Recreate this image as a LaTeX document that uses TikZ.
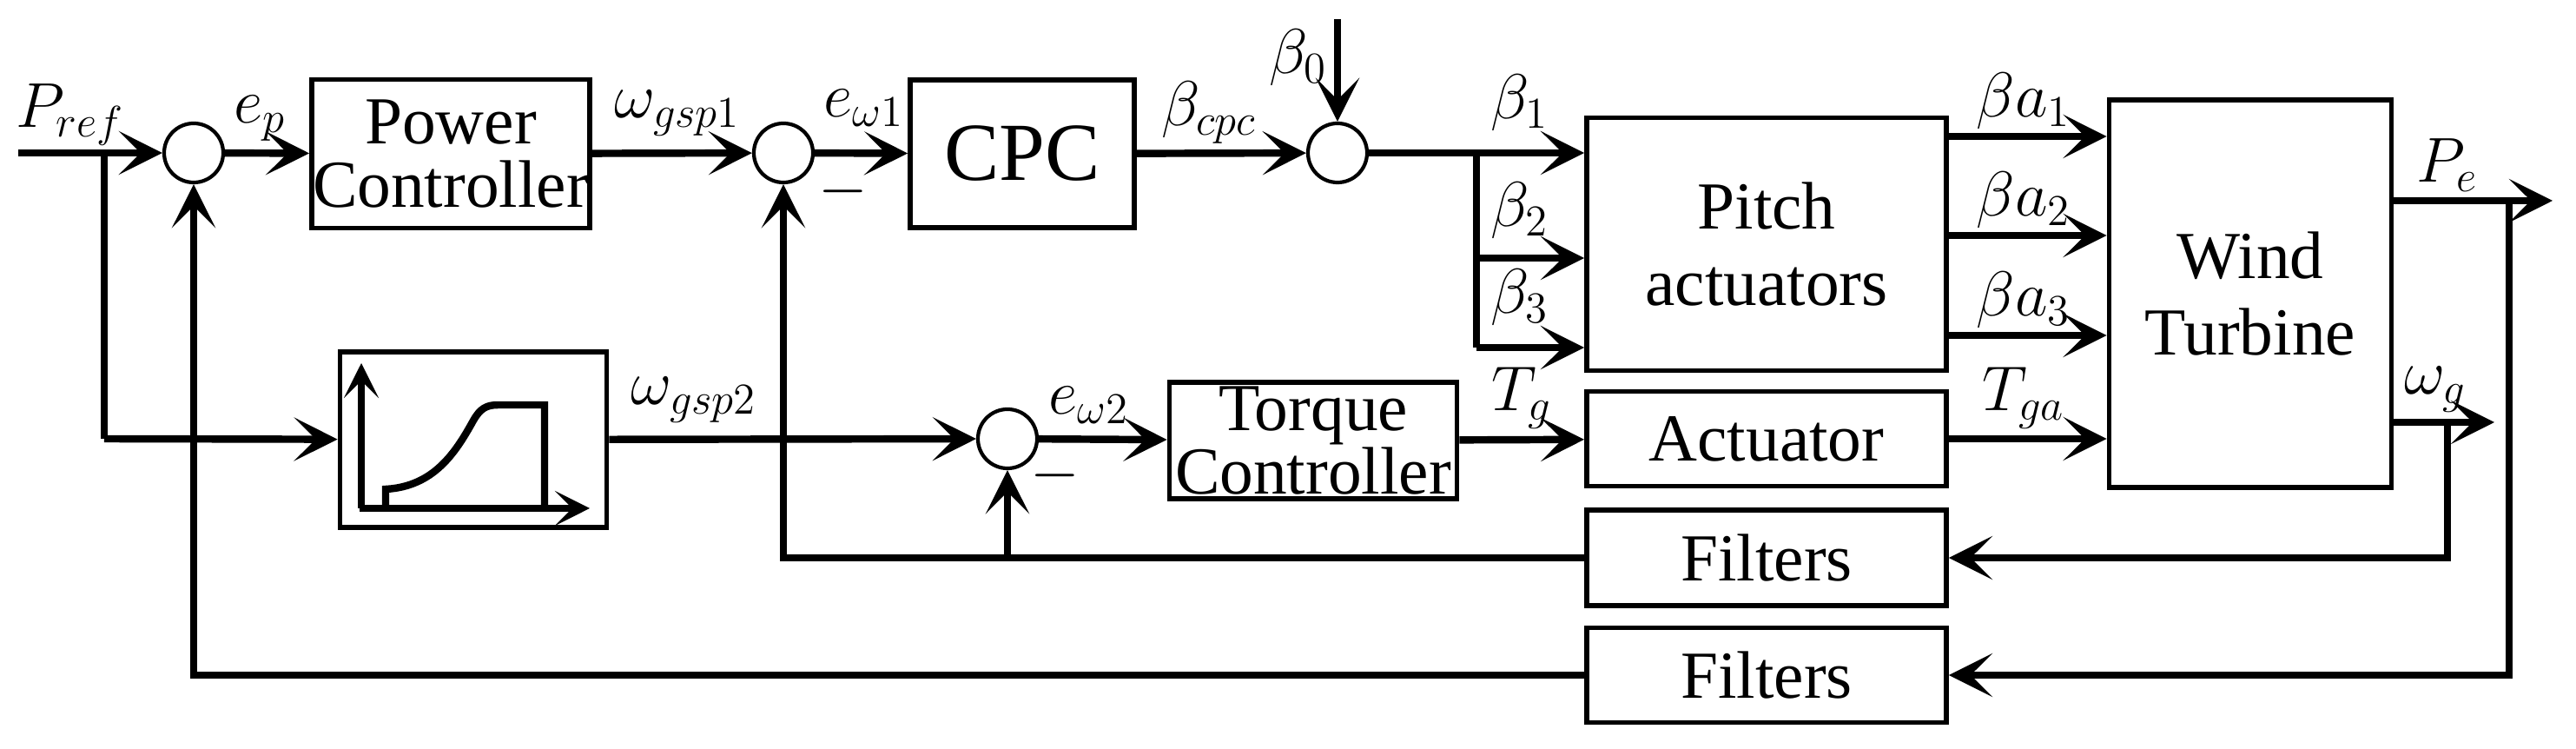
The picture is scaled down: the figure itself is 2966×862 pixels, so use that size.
\documentclass[tikz,border=0pt]{standalone}
\usepackage{fontspec}
\setmainfont{Liberation Serif}
\usepackage{tikz}
\usetikzlibrary{arrows.meta, positioning}
\tikzset{
    blk/.style={draw, line width=1.6pt, inner sep=0pt},
    sum/.style={draw, circle, line width=1.2pt, minimum size=0.68cm, inner sep=0pt},
    sig/.style={line width=2.4pt, -{Stealth[length=5mm, width=5mm, inset=2.5mm]}},
    wire/.style={line width=2.4pt},
    lbl/.style={font=\rmfamily\fontsize{22}{24}\selectfont},
}
\begin{document}
\begin{tikzpicture}[x=0.01cm, y=-0.01cm, font=\rmfamily\fontsize{22}{25}\selectfont]
    \useasboundingbox (0,0) rectangle (2966,862);
    % blocks
    \node[blk, minimum width=3.2cm, minimum height=1.71cm, align=center] (pc) at (519,177) {Power\\[-4pt]Controller};
    \node[blk, minimum width=2.58cm, minimum height=1.70cm, font=\rmfamily\fontsize{27}{28}\selectfont] (cpc) at (1177,177) {CPC};
    \node[blk, minimum width=3.07cm, minimum height=2.02cm] (curve) at (545,506) {};
    \node[blk, minimum width=3.31cm, minimum height=1.34cm, align=center] (tc) at (1512,507) {Torque\\[-4pt]Controller};
    \node[blk, minimum width=4.14cm, minimum height=2.91cm, align=center] (pa) at (2034,281) {Pitch\\actuators};
    \node[blk, minimum width=4.14cm, minimum height=1.09cm] (act) at (2034,505) {Actuator};
    \node[blk, minimum width=3.25cm, minimum height=4.46cm, align=center] (wt) at (2591,338) {Wind\\Turbine};
    \node[blk, minimum width=4.14cm, minimum height=1.10cm] (f1) at (2034,642) {Filters};
    \node[blk, minimum width=4.14cm, minimum height=1.09cm] (f2) at (2034,777) {Filters};
    % summing junctions
    \node[sum] (s1) at (223,176) {};
    \node[sum] (s2) at (902,176) {};
    \node[sum] (s3) at (1160,505) {};
    \node[sum] (s4) at (1540,176) {};
    % helper points
    \coordinate (in) at (21,176);
    \coordinate (pb) at (120,176);
    \coordinate (pd) at (120,505);
    \coordinate (b0) at (1540,22);
    \coordinate (bb) at (1700,176);
    \coordinate (bb2) at (1700,297);
    \coordinate (bb3) at (1700,400);
    \coordinate (pe) at (2939,231);
    \coordinate (peb) at (2889,231);
    \coordinate (pel) at (2889,777);
    \coordinate (wg) at (2872,486);
    \coordinate (wgb) at (2818,486);
    \coordinate (wgl) at (2818,642);
    \coordinate (fb1) at (902,642);
    \coordinate (fb3) at (1160,642);
    \coordinate (fb0) at (223,777);
    % inner curve of the schedule block
    \draw[line width=2.4pt, -{Stealth[length=4mm, width=4mm, inset=2mm]}] (416,585) -- (416,418);
    \draw[line width=2.4pt, -{Stealth[length=4mm, width=4mm, inset=2mm]}] (414,585) -- (679,585);
    \draw[line width=2.4pt] (444,585) -- (444,563) .. controls (500,560) and (525,520) .. (545,484)
        .. controls (553,470) and (560,466) .. (574,466) -- (627,466) -- (627,585);
    % signals
    \draw[sig] (in) -- (s1);
    \draw[sig] (s1) -- (pc);
    \draw[sig] (pc) -- (s2);
    \draw[sig] (s2) -- (cpc);
    \draw[sig] (cpc) -- (s4);
    \draw[sig] (b0) -- (s4);
    \draw[wire] (s4) -- (bb) -- (bb3);
    \draw[sig] (bb) -- (bb -| pa.west);
    \draw[sig] (bb2) -- (bb2 -| pa.west);
    \draw[sig] (bb3) -- (bb3 -| pa.west);
    \draw[sig] (pa.east |- 0,157) -- (wt.west |- 0,157);
    \draw[sig] (pa.east |- 0,271) -- (wt.west |- 0,271);
    \draw[sig] (pa.east |- 0,386) -- (wt.west |- 0,386);
    \draw[sig] (act) -- (act -| wt.west);
    \draw[sig] (tc) -- (act);
    \draw[sig] (s3) -- (tc);
    \draw[wire] (pb) -- (pd);
    \draw[sig] (pd) -- (curve);
    \draw[sig] (curve) -- (s3);
    \draw[sig] (wt.east |- pe) -- (pe);
    \draw[sig] (wt.east |- wg) -- (wg);
    \draw[sig] (peb) -- (pel) -- (f2);
    \draw[sig] (wgb) -- (wgl) -- (f1);
    \draw[sig] (f1) -- (fb1) -- (s2);
    \draw[sig] (fb3) -- (s3);
    \draw[sig] (f2) -- (fb0) -- (s1);
    % labels
    \node[lbl] (lpref) at (81,132) {$P_{ref}$};
    \node[lbl] (lep) at (299,136) {$e_p$};
    \node[lbl] (lw1) at (780,130) {$\omega_{gsp1}$};
    \node[lbl] (le1) at (995,124) {$e_{\omega1}$};
    \node[lbl] (lm1) at (971,220) {$-$};
    \node[lbl] (lbc) at (1392,130) {$\beta_{cpc}$};
    \node[lbl] (lb0) at (1495,66) {$\beta_0$};
    \node[lbl] (lb1) at (1750,118) {$\beta_1$};
    \node[lbl] (lb2) at (1750,242) {$\beta_2$};
    \node[lbl] (lb3) at (1750,342) {$\beta_3$};
    \node[lbl] (lba1) at (2330,116) {$\beta a_1$};
    \node[lbl] (lba2) at (2330,230) {$\beta a_2$};
    \node[lbl] (lba3) at (2330,345) {$\beta a_3$};
    \node[lbl] (lpe) at (2818,190) {$P_e$};
    \node[lbl] (lwg) at (2804,448) {$\omega_g$};
    \node[lbl] (ltg) at (1752,458) {$T_g$};
    \node[lbl] (ltga) at (2330,458) {$T_{ga}$};
    \node[lbl] (lw2) at (799,460) {$\omega_{gsp2}$};
    \node[lbl] (le2) at (1254,466) {$e_{\omega2}$};
    \node[lbl] (lm2) at (1215,547) {$-$};
\end{tikzpicture}
\end{document}
